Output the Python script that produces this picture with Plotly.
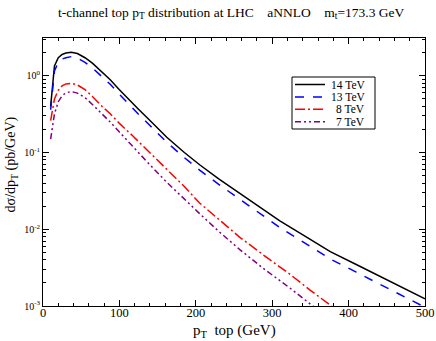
import plotly.graph_objects as go

# pT grid (GeV) and d sigma / d pT (pb/GeV)
pt_14 = [10, 15, 20, 25, 30, 37, 45, 55, 65, 75, 88, 100, 112, 125, 140, 162, 185,
         205, 230, 258, 284, 310, 345, 376, 410, 441, 470, 500]
xs_14 = [0.40, 1.35, 1.72, 1.90, 1.98, 2.03, 1.95, 1.72, 1.45, 1.18, 0.89, 0.66, 0.49,
         0.366, 0.261, 0.158, 0.1002, 0.0693, 0.0455, 0.0294, 0.0193, 0.0129, 0.0079,
         0.0051, 0.00347, 0.00243, 0.00175, 0.00124]

pt_13 = pt_14
xs_13 = [0.361, 1.16, 1.50, 1.655, 1.72, 1.78, 1.70, 1.50, 1.26, 1.03, 0.775, 0.575,
         0.427, 0.316, 0.225, 0.136, 0.0859, 0.059, 0.0385, 0.0247, 0.0161, 0.01054,
         0.00639, 0.0041, 0.00276, 0.00191, 0.001365, 0.000962]

pt_8 = [10, 15, 20, 25, 30, 37, 45, 55, 65, 75, 88, 100, 118, 140, 162, 185, 205, 230,
        258, 290, 323, 350, 378, 400]
xs_8 = [0.26, 0.50, 0.65, 0.74, 0.785, 0.80, 0.76, 0.66, 0.535, 0.42, 0.32, 0.24, 0.163,
        0.10, 0.060, 0.036, 0.022, 0.0135, 0.0078, 0.0045, 0.0026, 0.0016, 0.001, 0.00068]

pt_7 = [10, 15, 20, 25, 30, 37, 45, 55, 65, 79, 88, 100, 118, 140, 162, 185, 205, 230,
        258, 290, 323, 352, 380]
xs_7 = [0.15, 0.32, 0.46, 0.55, 0.60, 0.625, 0.595, 0.52, 0.42, 0.31, 0.25, 0.185, 0.118,
        0.069, 0.041, 0.0245, 0.016, 0.0094, 0.0054, 0.0030, 0.00172, 0.00102, 0.00062]

y_tickvals = [1e-3, 1e-2, 1e-1, 1]
y_ticktext = ["10<sup>-3</sup>", "10<sup>-2</sup>", "10<sup>-1</sup>", "10<sup>0</sup>"]

serif = "'Liberation Serif', 'Times New Roman', serif"

# plot area in pixels (for converting the hand-drawn legend box)
L, R, T, B = 43, 425, 38, 306
def px_x(p):
    return (p - L) / (R - L)
def px_y(p):
    return (B - p) / (B - T)

fig = go.Figure()
series = [
    (pt_14, xs_14, "14 TeV", "black", "solid"),
    (pt_13, xs_13, "13 TeV", "#0000ff", "dash"),
    (pt_8, xs_8, "8 TeV", "#ff0000", "10px,3px,2px,3px"),
    (pt_7, xs_7, "7 TeV", "#800080", "6px,3px,2px,3px,2px,3px"),
]
shapes = [dict(type="rect", xref="paper", yref="paper",
               x0=px_x(292), x1=px_x(375), y0=px_y(129), y1=px_y(77),
               line=dict(color="black", width=1), fillcolor="white", layer="above")]
annotations = []
for i, (x, y, name, col, dash) in enumerate(series):
    fig.add_trace(go.Scatter(x=x, y=y, mode="lines", name=name, showlegend=False,
                             line=dict(color=col, width=1.5, dash=dash)))
    yy = px_y(84.5 + 12.4 * i)
    shapes.append(dict(type="line", xref="paper", yref="paper",
                       x0=px_x(295), x1=px_x(325), y0=yy, y1=yy,
                       line=dict(color=col, width=1.5, dash=dash), layer="above"))
    annotations.append(dict(text=name, xref="paper", yref="paper", x=px_x(367), y=yy,
                            xanchor="right", yanchor="middle", showarrow=False,
                            font=dict(size=11.5, family=serif)))

annotations += [
    dict(text="p<sub>T</sub>  top (GeV)", xref="paper", yref="paper", x=0.5, y=-0.095,
         xanchor="center", yanchor="middle", showarrow=False,
         font=dict(size=15, family=serif)),
    dict(text="dσ/dp<sub>T</sub> (pb/GeV)", xref="paper", yref="paper", x=-0.08, y=0.53,
         xanchor="center", yanchor="middle", showarrow=False, textangle=-90,
         font=dict(size=14, family=serif)),
]

fig.update_layout(
    width=436, height=341,
    margin=dict(l=L, r=436 - R, t=T, b=341 - B, autoexpand=False),
    paper_bgcolor="white", plot_bgcolor="white",
    font=dict(family=serif, color="black", size=13),
    title=dict(text="t-channel top p<sub>T</sub> distribution at LHC &nbsp;&nbsp; aNNLO &nbsp;&nbsp; m<sub>t</sub>=173.3 GeV",
               x=0.53, xanchor="center", y=0.965, yanchor="middle",
               font=dict(size=13.5, family=serif)),
    showlegend=False,
    shapes=shapes,
    annotations=annotations,
)
fig.update_xaxes(
    range=[0, 500], dtick=100, ticks="inside", ticklen=6, tickcolor="black",
    minor=dict(dtick=20, ticks="inside", ticklen=3, tickcolor="black"),
    showline=True, linecolor="black", linewidth=1, mirror="ticks",
    showgrid=False, zeroline=False, tickfont=dict(size=12.5, family=serif),
    ticklabelstandoff=-5, automargin=False,
)
fig.update_yaxes(
    type="log", range=[-3, 0.493], tickvals=y_tickvals, ticktext=y_ticktext,
    ticks="inside", ticklen=6, tickcolor="black",
    minor=dict(ticks="inside", ticklen=3, tickcolor="black", dtick="D1"),
    showline=True, linecolor="black", linewidth=1, mirror="ticks",
    showgrid=False, zeroline=False, tickfont=dict(size=10, family=serif),
    automargin=False,
)

fig.write_html("out.html", config={"displayModeBar": False},
               post_script="document.body.style.margin='0px';")
